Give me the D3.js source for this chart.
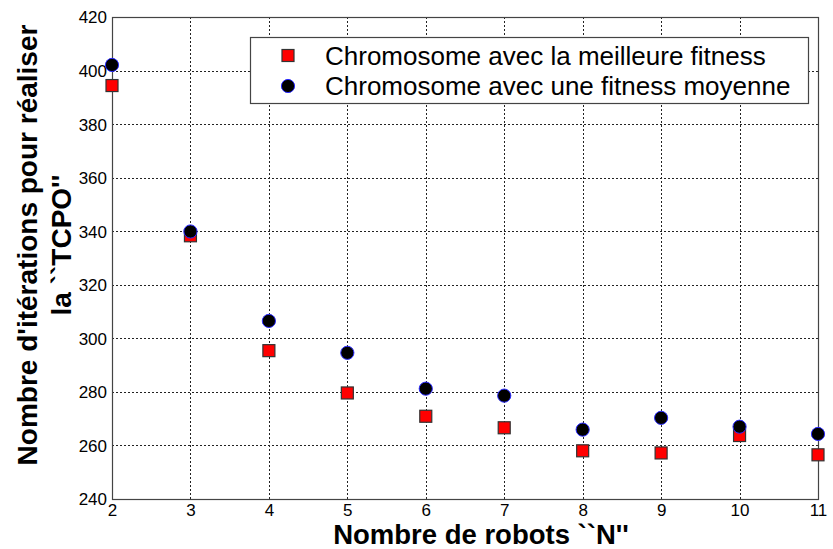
<!DOCTYPE html>
<html>
<head>
<meta charset="utf-8">
<script src="https://cdn.jsdelivr.net/npm/d3@7/dist/d3.min.js"></script>
<style>
  html, body { margin: 0; padding: 0; background: #fff; }
  svg { display: block; font-family: "Liberation Sans", Arial, Helvetica, sans-serif; }
</style>
</head>
<body>
<svg id="chart" width="833" height="549"></svg>
<script>
// Number of robots N
const robots = [2, 3, 4, 5, 6, 7, 8, 9, 10, 11];
// Iterations needed for the TCPO: best-fitness chromosome
const bestFitness = [394.4, 338.3, 295.4, 279.6, 270.9, 266.6, 258.0, 257.2, 263.7, 256.5];
// Iterations needed for the TCPO: average-fitness chromosome
const meanFitness = [402.1, 339.9, 306.5, 294.6, 281.2, 278.6, 265.9, 270.3, 267.0, 264.3];
const xTicks = [2, 3, 4, 5, 6, 7, 8, 9, 10, 11];
const yTicks = [240, 260, 280, 300, 320, 340, 360, 380, 400, 420];
const seriesNames = ["Chromosome avec la meilleure fitness", "Chromosome avec une fitness moyenne"];
const xTitle = "Nombre de robots ``N''";
const yTitleLines = ["Nombre d'itérations pour réaliser", "la ``TCPO''"];

const svg = d3.select("#chart");
const plot = { left: 112, right: 818, top: 17, bottom: 499 };

const x = d3.scaleLinear().domain([2, 11]).range([plot.left, plot.right]);
const y = d3.scaleLinear().domain([240, 420]).range([plot.bottom, plot.top]);

// Dotted grid on interior ticks
const grid = svg.append("g").attr("stroke", "#222").attr("stroke-width", 1)
  .attr("stroke-dasharray", "2,2").attr("shape-rendering", "crispEdges");
grid.selectAll("line.gx").data(xTicks.slice(1, -1)).join("line")
  .attr("x1", d => Math.round(x(d)) + 0.5).attr("x2", d => Math.round(x(d)) + 0.5)
  .attr("y1", plot.top).attr("y2", plot.bottom);
grid.selectAll("line.gy").data(yTicks.slice(1, -1)).join("line")
  .attr("y1", d => Math.round(y(d)) + 0.5).attr("y2", d => Math.round(y(d)) + 0.5)
  .attr("x1", plot.left).attr("x2", plot.right);

// Axes with tick labels
const xAxis = d3.axisBottom(x).tickValues(xTicks).tickSize(0).tickPadding(0).tickFormat(d3.format("d"));
const yAxis = d3.axisLeft(y).tickValues(yTicks).tickSize(0).tickPadding(5).tickFormat(d3.format("d"));

const gx = svg.append("g").attr("transform", `translate(0,${plot.bottom})`).call(xAxis);
gx.select(".domain").remove();
gx.selectAll("text").attr("font-size", 17).attr("fill", "#000")
  .attr("font-family", "Liberation Sans, Arial, sans-serif")
  .attr("dy", null).attr("y", 17);

const gy = svg.append("g").attr("transform", `translate(${plot.left},0)`).call(yAxis);
gy.select(".domain").remove();
gy.selectAll("text").attr("font-size", 17).attr("fill", "#000")
  .attr("font-family", "Liberation Sans, Arial, sans-serif")
  .attr("dy", "0.35em");

// Frame around the plot area
svg.append("rect")
  .attr("x", plot.left + 0.5).attr("y", plot.top + 0.5)
  .attr("width", plot.right - plot.left).attr("height", plot.bottom - plot.top)
  .attr("fill", "none").attr("stroke", "#444").attr("stroke-width", 1.2);

// Markers
const sq = 12;
svg.append("g").selectAll("rect").data(robots.map((r, i) => [r, bestFitness[i]])).join("rect")
  .attr("x", d => x(d[0]) - sq / 2).attr("y", d => y(d[1]) - sq / 2)
  .attr("width", sq).attr("height", sq)
  .attr("fill", "#ff0000").attr("stroke", "#333").attr("stroke-width", 1.2);

svg.append("g").selectAll("circle").data(robots.map((r, i) => [r, meanFitness[i]])).join("circle")
  .attr("cx", d => x(d[0])).attr("cy", d => y(d[1])).attr("r", 6.6)
  .attr("fill", "#000").attr("stroke", "#2a2aff").attr("stroke-width", 1);

// Legend
const lg = svg.append("g");
lg.append("rect").attr("x", 250.5).attr("y", 37.5).attr("width", 558).attr("height", 66)
  .attr("fill", "#fff").attr("stroke", "#444").attr("stroke-width", 1.2);
lg.append("rect").attr("x", 288 - sq / 2).attr("y", 55.5 - sq / 2).attr("width", sq).attr("height", sq)
  .attr("fill", "#ff0000").attr("stroke", "#333").attr("stroke-width", 1.2);
lg.append("circle").attr("cx", 288).attr("cy", 86).attr("r", 6.6)
  .attr("fill", "#000").attr("stroke", "#2a2aff").attr("stroke-width", 1);
lg.selectAll("text").data(seriesNames).join("text")
  .attr("x", 325).attr("y", (d, i) => [55.5, 86][i]).attr("dy", "0.35em")
  .attr("font-size", 26).attr("fill", "#000").text(d => d);

// Axis titles
svg.append("text").attr("x", 481).attr("y", 544)
  .attr("text-anchor", "middle").attr("font-size", 27.5).attr("font-weight", "bold")
  .attr("fill", "#000").text(xTitle);

const yt = svg.append("g").attr("transform", "translate(0,245) rotate(-90)");
yt.selectAll("text").data(yTitleLines).join("text")
  .attr("x", 0).attr("y", (d, i) => [37, 71][i])
  .attr("text-anchor", "middle").attr("font-size", 28).attr("font-weight", "bold")
  .attr("fill", "#000").text(d => d);
</script>
</body>
</html>
